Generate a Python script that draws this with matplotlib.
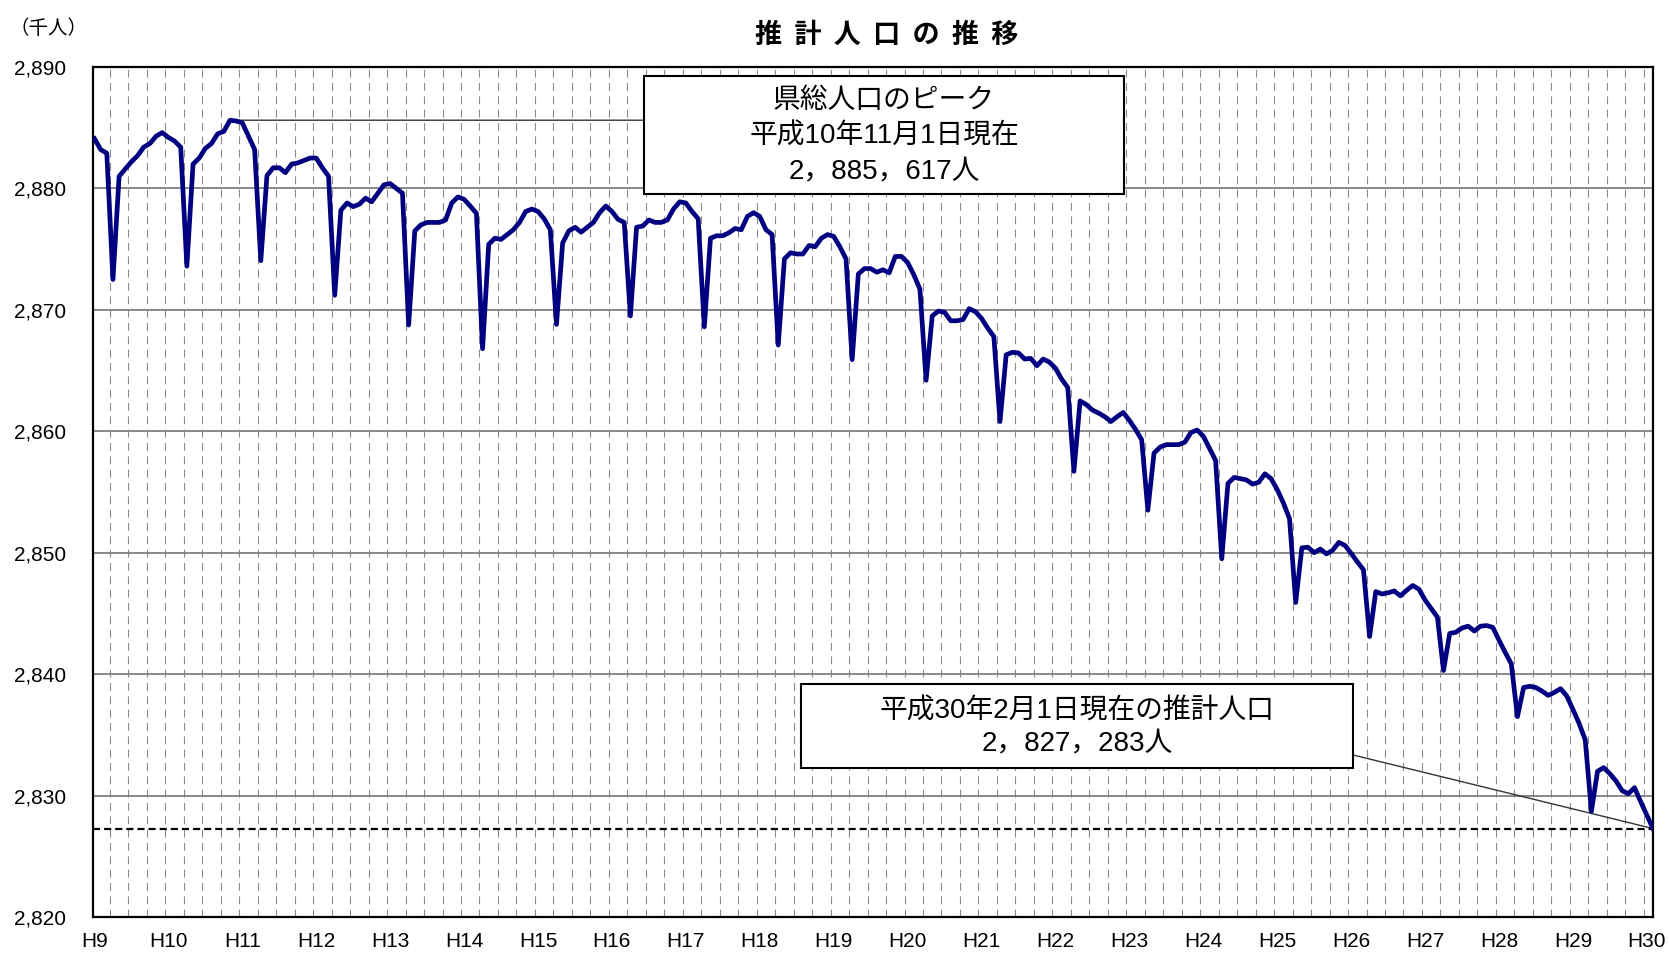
import matplotlib.pyplot as plt
import numpy as np
from matplotlib.patches import Rectangle

# 推計人口（千人） 各月1日現在、平成9年1月 ～ 平成30年2月
population = [
    # H9
    2884.1, 2883.2, 2882.9, 2872.5, 2881.0, 2881.6, 2882.2, 2882.7, 2883.4, 2883.7, 2884.3, 2884.6,
    # H10
    2884.2, 2883.9, 2883.4, 2873.6, 2882.0, 2882.5, 2883.3, 2883.7, 2884.5, 2884.7, 2885.617, 2885.55,
    # H11
    2885.4, 2884.3, 2883.2, 2874.05, 2881.05, 2881.7, 2881.7, 2881.3, 2882.0, 2882.1, 2882.3, 2882.5,
    # H12
    2882.5, 2881.7, 2881.0, 2871.2, 2878.2, 2878.8, 2878.5, 2878.7, 2879.2, 2878.9, 2879.6, 2880.3,
    # H13
    2880.4, 2880.0, 2879.6, 2868.75, 2876.5, 2877.0, 2877.2, 2877.2, 2877.2, 2877.4, 2878.8, 2879.3,
    # H14
    2879.1, 2878.55, 2877.95, 2866.8, 2875.4, 2875.9, 2875.8, 2876.2, 2876.6, 2877.2, 2878.1, 2878.3,
    # H15
    2878.1, 2877.5, 2876.6, 2868.8, 2875.5, 2876.5, 2876.8, 2876.4, 2876.8, 2877.2, 2878.0, 2878.55,
    # H16
    2878.1, 2877.45, 2877.2, 2869.5, 2876.8, 2876.9, 2877.4, 2877.2, 2877.2, 2877.4, 2878.3, 2878.9,
    # H17
    2878.8, 2878.1, 2877.5, 2868.6, 2875.9, 2876.1, 2876.1, 2876.35, 2876.7, 2876.6, 2877.7, 2878.0,
    # H18
    2877.7, 2876.6, 2876.2, 2867.1, 2874.2, 2874.7, 2874.6, 2874.6, 2875.3, 2875.2, 2875.9, 2876.2,
    # H19
    2876.05, 2875.2, 2874.2, 2865.9, 2872.95, 2873.4, 2873.4, 2873.1, 2873.3, 2873.05, 2874.4, 2874.4,
    # H20
    2873.9, 2872.9, 2871.7, 2864.2, 2869.5, 2869.9, 2869.8, 2869.1, 2869.1, 2869.2, 2870.1, 2869.85,
    # H21
    2869.3, 2868.5, 2867.8, 2860.8, 2866.3, 2866.5, 2866.45, 2865.95, 2866.0, 2865.4, 2865.95, 2865.7,
    # H22
    2865.2, 2864.3, 2863.6, 2856.7, 2862.5, 2862.2, 2861.75, 2861.5, 2861.2, 2860.8, 2861.2, 2861.55,
    # H23
    2860.9, 2860.15, 2859.3, 2853.5, 2858.2, 2858.7, 2858.9, 2858.9, 2858.9, 2859.1, 2859.9, 2860.1,
    # H24
    2859.6, 2858.6, 2857.6, 2849.5, 2855.7, 2856.2, 2856.1, 2856.0, 2855.65, 2855.8, 2856.5, 2856.1,
    # H25
    2855.2, 2854.1, 2852.8, 2845.9, 2850.4, 2850.45, 2850.0, 2850.3, 2849.9, 2850.2, 2850.85, 2850.6,
    # H26
    2849.95, 2849.25, 2848.6, 2843.1, 2846.8, 2846.6, 2846.7, 2846.85, 2846.45, 2846.9, 2847.3, 2847.0,
    # H27
    2846.1, 2845.4, 2844.7, 2840.3, 2843.35, 2843.45, 2843.8, 2843.95, 2843.55, 2843.95, 2844.0, 2843.85,
    # H28
    2842.8, 2841.8, 2840.85, 2836.5, 2838.9, 2839.0, 2838.9, 2838.6, 2838.25, 2838.5, 2838.8, 2838.2,
    # H29
    2837.1, 2835.95, 2834.6, 2828.7, 2832.0, 2832.3, 2831.8, 2831.2, 2830.4, 2830.15, 2830.65, 2829.5,
    # H30
    2828.4, 2827.283,
]

year_labels = ["H9", "H10", "H11", "H12", "H13", "H14", "H15", "H16", "H17", "H18", "H19",
               "H20", "H21", "H22", "H23", "H24", "H25", "H26", "H27", "H28", "H29", "H30"]
y_ticks = [2820, 2830, 2840, 2850, 2860, 2870, 2880, 2890]

title = "推  計  人  口  の  推  移"
unit_label = "（千人）"
peak_text = "県総人口のピーク\n平成10年11月1日現在\n2，885，617人"
latest_text = "平成30年2月1日現在の推計人口\n2，827，283人"

cjk = ["Noto Sans CJK JP", "DejaVu Sans"]
latin = ["Liberation Sans", "DejaVu Sans"]
mixed = ["Liberation Sans", "Noto Sans CJK JP"]

fig = plt.figure(figsize=(16.69, 9.57), dpi=100)
ax = fig.add_axes([0.0555, 0.0418, 0.9349, 0.8882])

x = np.arange(len(population))
pop = np.array(population)

ax.set_xlim(-0.3, len(population) - 1)
ax.set_ylim(y_ticks[0], y_ticks[-1])

# grid: solid horizontal lines, dashed vertical lines every 3 months
ax.set_axisbelow(True)
ax.set_yticks(y_ticks)
ax.set_yticklabels([f"{v:,}" for v in y_ticks], family=latin, fontsize=15)
ax.set_xticks(x[::12])
ax.set_xticklabels(year_labels, family=latin, fontsize=15)
ax.set_xticks(np.arange(2.5, len(population), 3), minor=True)
ax.grid(axis="y", which="major", color="#808080", lw=1.3)
ax.grid(axis="x", which="minor", color="#8a8a8a", lw=0.8, linestyle=(0, (7, 5)))
ax.tick_params(which="both", length=0)
ax.tick_params(axis="y", pad=19)
ax.tick_params(axis="x", pad=11)
for s in ax.spines.values():
    s.set_linewidth(1.6)
    s.set_color("black")

# latest level
ax.axhline(pop[-1], color="black", lw=1.6, dashes=(3.2, 1.8), zorder=3)

ax.plot(x, pop, color="#000080", lw=3.4, solid_joinstyle="round", zorder=4)

# connector lines to annotation boxes
peak_i = int(np.argmax(pop))
box1 = (0.3859, 0.7972, 0.2876, 0.1238)   # x0, y0, w, h in figure fraction
box2 = (0.4802, 0.1975, 0.3305, 0.0878)
ax.annotate("", xy=(peak_i, pop[peak_i]), xycoords="data",
            xytext=(box1[0], pop[peak_i]), textcoords=("figure fraction", "data"),
            arrowprops=dict(arrowstyle="-", color="#333333", lw=1.0, shrinkA=0, shrinkB=0),
            zorder=2)
ax.annotate("", xy=(x[-1], pop[-1]), xycoords="data",
            xytext=(box2[0] + box2[2], 0.2111), textcoords="figure fraction",
            arrowprops=dict(arrowstyle="-", color="#333333", lw=1.0, shrinkA=0, shrinkB=0),
            zorder=2)

for (bx, by, bw, bh), txt, ls in [(box1, peak_text, 1.48), (box2, latest_text, 1.36)]:
    fig.add_artist(Rectangle((bx, by), bw, bh, transform=fig.transFigure,
                             facecolor="white", edgecolor="black", lw=1.5, zorder=5))
    fig.text(bx + bw / 2, by + bh / 2 - 0.002, txt, ha="center", va="center",
             family=mixed, fontsize=20, linespacing=ls, zorder=6)

fig.text(0.5315, 0.9634, title, ha="center", va="center", family=cjk,
         fontsize=19.5, fontweight="bold")
fig.text(0.0288, 0.9702, unit_label, ha="center", va="center", family=cjk, fontsize=14)

fig.savefig("out.png", dpi=100)
